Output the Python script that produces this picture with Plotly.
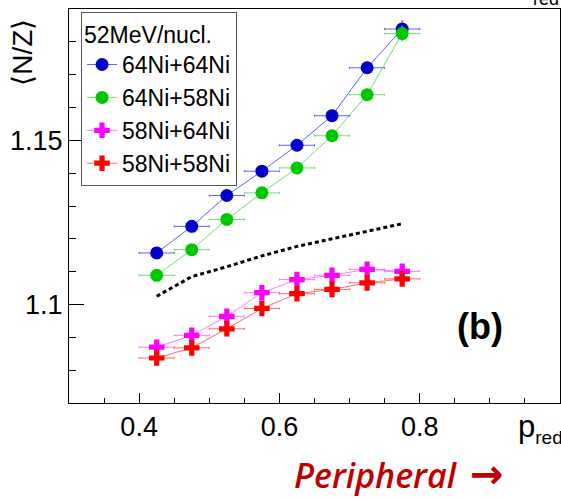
import plotly.graph_objects as go

# ---- data ----
x_bins = [0.425, 0.475, 0.525, 0.575, 0.625, 0.675, 0.725, 0.775]
x_halfwidth = [0.025] * 8

y_6464 = [1.1157, 1.1238, 1.1332, 1.1406, 1.1485, 1.1575, 1.1721, 1.1839]
y_6458 = [1.1089, 1.1167, 1.1259, 1.1340, 1.1416, 1.1514, 1.1639, 1.1825]
y_5864 = [1.0870, 1.0906, 1.0964, 1.1036, 1.1076, 1.1089, 1.1107, 1.1101]
y_5858 = [1.0837, 1.0868, 1.0926, 1.0988, 1.1033, 1.1046, 1.1066, 1.1078]

err_6464 = [0.0012, 0.0012, 0.0012, 0.0013, 0.0014, 0.0015, 0.0017, 0.0025]
err_6458 = [0.0012, 0.0012, 0.0012, 0.0013, 0.0014, 0.0015, 0.0017, 0.0022]
err_5864 = [0.0010, 0.0010, 0.0010, 0.0011, 0.0012, 0.0012, 0.0013, 0.0014]
err_5858 = [0.0010, 0.0010, 0.0010, 0.0011, 0.0012, 0.0012, 0.0013, 0.0014]

y_model = [1.1025, 1.1085, 1.1115, 1.1148, 1.1177, 1.1200, 1.1223, 1.1246]

names = ["64Ni+64Ni", "64Ni+58Ni", "58Ni+64Ni", "58Ni+58Ni"]
legend_title = "52MeV/nucl."

x_tickvals = [0.4, 0.6, 0.8, 1.0]
x_ticktext = ["0.4", "0.6", "0.8", "1"]
y_tickvals = [1.1, 1.15]
y_ticktext = ["1.1", "1.15"]

FONT = "Liberation Sans, Arial, sans-serif"

series = [
    (y_6464, err_6464, names[0], "#0000c8", "rgba(60,60,230,0.8)", "circle", 13),
    (y_6458, err_6458, names[1], "#00c800", "rgba(80,210,80,0.8)", "circle", 13),
    (y_5864, err_5864, names[2], "#ff00ff", "rgba(255,90,255,0.8)", "cross", 13),
    (y_5858, err_5858, names[3], "#ff0000", "rgba(255,70,70,0.8)", "cross", 13),
]

fig = go.Figure()

fig.add_trace(go.Scatter(
    x=x_bins, y=y_model, mode="lines", showlegend=False,
    line=dict(color="black", width=3, dash="4px,3px"), hoverinfo="skip",
))

for y, e, nm, mc, lc, sym, sz in series:
    fig.add_trace(go.Scatter(
        x=x_bins, y=y, name=nm, mode="lines+markers",
        line=dict(color=lc, width=1),
        marker=dict(color=mc, symbol=sym, size=sz, line=dict(width=0)),
        error_x=dict(type="data", array=x_halfwidth, color=lc, thickness=1, width=1),
        error_y=dict(type="data", array=e, color=lc, thickness=1, width=1),
    ))

fig.update_layout(
    width=561, height=499,
    margin=dict(l=69, r=1, t=9, b=96),
    paper_bgcolor="white", plot_bgcolor="white",
    font=dict(family=FONT, color="black", size=24),
    showlegend=True,
    legend=dict(
        x=0.0245, y=0.992, xanchor="left", yanchor="top",
        bordercolor="#555555", borderwidth=1, bgcolor="white",
        font=dict(family=FONT, size=23, color="black"),
        title=dict(text=legend_title, font=dict(family=FONT, size=23)),
        itemwidth=30, tracegroupgap=0,
    ),
    xaxis=dict(
        range=[0.3, 1.0], showgrid=False, zeroline=False,
        showline=True, linecolor="black", linewidth=1, mirror=True,
        ticks="inside", ticklen=10, tickcolor="black",
        tickvals=x_tickvals, ticktext=x_ticktext,
        tickfont=dict(family=FONT, size=27),
        minor=dict(dtick=0.05, tick0=0.3, ticks="inside", ticklen=5, tickcolor="black"),
    ),
    yaxis=dict(
        range=[1.07, 1.19], showgrid=False, zeroline=False,
        showline=True, linecolor="black", linewidth=1, mirror=True,
        ticks="inside", ticklen=15, tickcolor="black",
        tickvals=y_tickvals, ticktext=y_ticktext,
        tickfont=dict(family=FONT, size=27),
        minor=dict(dtick=0.01, tick0=1.07, ticks="inside", ticklen=7, tickcolor="black"),
    ),
    annotations=[
        dict(text="⟨N/Z⟩", textangle=-90, xref="paper", yref="paper",
             x=-0.095, y=0.89, xanchor="center", yanchor="middle", showarrow=False,
             font=dict(family=FONT, size=28)),
        dict(text="p<sub><span style='font-size:19px'>red</span></sub>",
             xref="paper", yref="paper",
             x=0.91, y=-0.01, xanchor="left", yanchor="top", showarrow=False,
             font=dict(family=FONT, size=31)),
        dict(text="red", xref="paper", yref="paper",
             x=0.94, y=0.995, xanchor="left", yanchor="bottom", showarrow=False,
             font=dict(family=FONT, size=18)),
        dict(text="(b)", xref="x", yref="y", x=0.886, y=1.0933,
             xanchor="center", yanchor="middle", showarrow=False,
             font=dict(family=FONT, size=36, weight="bold")),
        dict(text="Peripheral<span style='font-family:DejaVu Sans;font-style:normal;font-weight:bold;font-size:40px'> →</span>",
             xref="paper", yref="paper",
             x=0.672, y=-0.245, xanchor="center", yanchor="bottom", showarrow=False,
             font=dict(family="Open Sans, sans-serif", size=34, color="#c00000",
                       weight=600, style="italic")),
    ],
)

fig.write_html("out.html")
